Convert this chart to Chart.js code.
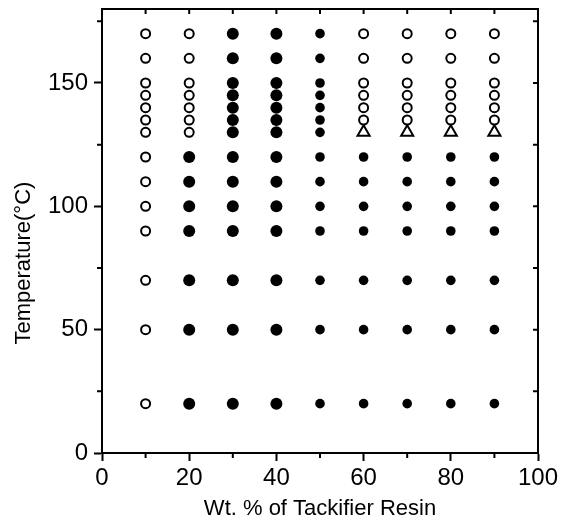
<!DOCTYPE html>
<html>
<head>
<meta charset="utf-8">
<script src="https://cdn.jsdelivr.net/npm/chart.js@4/dist/chart.umd.min.js"></script>
<style>
  html, body { margin: 0; padding: 0; background: #fff; }
  #wrap { width: 572px; height: 525px; }
</style>
</head>
<body>
<div id="wrap"><canvas id="chart" width="572" height="525"></canvas></div>
<script>
// Resin content columns and measured temperatures
const resinWt = [10, 20, 30, 40, 50, 60, 70, 80, 90];
const temps = [20, 50, 70, 90, 100, 110, 120, 130, 135, 140, 145, 150, 160, 170];

// One string per temperature row, one letter per resin column
// O = open circle, F = filled circle, T = open triangle
const phaseRows = [
  'OFFFFFFFF', // 20
  'OFFFFFFFF', // 50
  'OFFFFFFFF', // 70
  'OFFFFFFFF', // 90
  'OFFFFFFFF', // 100
  'OFFFFFFFF', // 110
  'OFFFFFFFF', // 120
  'OOFFFTTTT', // 130
  'OOFFFOOOO', // 135
  'OOFFFOOOO', // 140
  'OOFFFOOOO', // 145
  'OOFFFOOOO', // 150
  'OOFFFOOOO', // 160
  'OOFFFOOOO'  // 170
];

// Tick values
const xMajorTicks = [0, 20, 40, 60, 80, 100];
const xMinorTicks = [10, 30, 50, 70, 90];
const yMajorTicks = [0, 50, 100, 150];
const yMinorTicks = [25, 75, 125, 175];

// Sort the grid into point groups
const openPts = [], filledBig = [], filledSmall = [], trianglePts = [];
temps.forEach((t, i) => {
  resinWt.forEach((w, j) => {
    const code = phaseRows[i][j];
    const p = { x: w, y: t };
    if (code === 'O') openPts.push(p);
    else if (code === 'T') trianglePts.push(p);
    else if (w <= 40) filledBig.push(p);
    else filledSmall.push(p);
  });
});

const frameTicks = {
  id: 'frameTicks',
  afterDraw(chart) {
    const ctx = chart.ctx;
    const { left, right, top, bottom } = chart.chartArea;
    const xs = chart.scales.x, ys = chart.scales.y;
    ctx.save();
    ctx.strokeStyle = '#000';
    ctx.lineWidth = 2;
    ctx.strokeRect(left, top, right - left, bottom - top);

    ctx.beginPath();
    // minor outward ticks
    xMinorTicks.forEach(v => {
      const px = xs.getPixelForValue(v);
      ctx.moveTo(px, bottom); ctx.lineTo(px, bottom + 5);
    });
    yMinorTicks.forEach(v => {
      const py = ys.getPixelForValue(v);
      ctx.moveTo(left - 5, py); ctx.lineTo(left, py);
    });
    // inward ticks on top and right
    xMajorTicks.concat(xMinorTicks).forEach(v => {
      const px = xs.getPixelForValue(v);
      ctx.moveTo(px, top); ctx.lineTo(px, top + 5);
    });
    yMajorTicks.concat(yMinorTicks).forEach(v => {
      const py = ys.getPixelForValue(v);
      ctx.moveTo(right - 5, py); ctx.lineTo(right, py);
    });
    ctx.stroke();

    // y axis title
    ctx.fillStyle = '#000';
    ctx.font = '22px "Liberation Sans", Arial, sans-serif';
    ctx.textAlign = 'center';
    ctx.textBaseline = 'middle';
    ctx.translate(24, ys.getPixelForValue(77));
    ctx.rotate(-Math.PI / 2);
    ctx.fillText('Temperature(°C)', 0, 0);
    ctx.restore();
  }
};

const tickFont = { family: '"Liberation Sans", Arial, sans-serif', size: 24 };

new Chart(document.getElementById('chart'), {
  type: 'scatter',
  data: {
    datasets: [
      {
        label: 'open',
        data: openPts,
        pointStyle: 'circle',
        pointRadius: 4.5,
        pointBorderWidth: 2,
        pointBackgroundColor: '#fff',
        pointBorderColor: '#000'
      },
      {
        label: 'filled',
        data: filledBig,
        pointStyle: 'circle',
        pointRadius: 6,
        pointBorderWidth: 0,
        pointBackgroundColor: '#000',
        pointBorderColor: '#000'
      },
      {
        label: 'filled small',
        data: filledSmall,
        pointStyle: 'circle',
        pointRadius: 4.8,
        pointBorderWidth: 0,
        pointBackgroundColor: '#000',
        pointBorderColor: '#000'
      },
      {
        label: 'triangle',
        data: trianglePts,
        pointStyle: 'triangle',
        pointRadius: 7,
        pointBorderWidth: 2,
        pointBackgroundColor: '#fff',
        pointBorderColor: '#000'
      }
    ]
  },
  options: {
    responsive: false,
    animation: false,
    layout: { padding: { top: 7, right: 34, left: 0, bottom: 0 } },
    plugins: {
      legend: { display: false },
      tooltip: { enabled: false }
    },
    scales: {
      x: {
        type: 'linear',
        min: 0,
        max: 100,
        afterBuildTicks: s => { s.ticks = xMajorTicks.map(v => ({ value: v })); },
        afterFit: s => { s.height = 72; },
        grid: { drawOnChartArea: false, drawTicks: true, tickLength: 8, tickWidth: 2, tickColor: '#000' },
        border: { display: true, color: '#000', width: 2 },
        ticks: { color: '#000', font: tickFont, padding: 3, maxRotation: 0 },
        title: {
          display: true,
          text: 'Wt. % of Tackifier Resin',
          color: '#000',
          font: { family: '"Liberation Sans", Arial, sans-serif', size: 22 },
          padding: { top: 0, bottom: 3 }
        }
      },
      y: {
        type: 'linear',
        min: 0,
        max: 180,
        afterBuildTicks: s => { s.ticks = yMajorTicks.map(v => ({ value: v })); },
        afterFit: s => { s.width = 102; s.paddingTop = 0; s.paddingBottom = 0; },
        grid: { drawOnChartArea: false, drawTicks: true, tickLength: 8, tickWidth: 2, tickColor: '#000' },
        border: { display: true, color: '#000', width: 2 },
        ticks: { color: '#000', font: tickFont, padding: 6 }
      }
    }
  },
  plugins: [frameTicks]
});
</script>
</body>
</html>
